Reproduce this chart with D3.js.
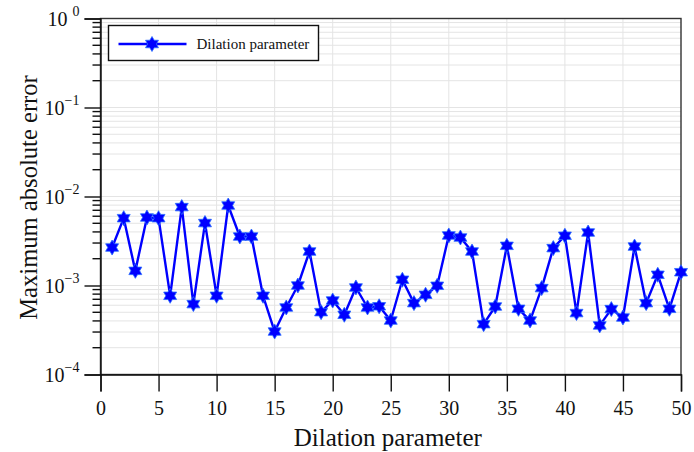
<!DOCTYPE html>
<html>
<head>
<meta charset="utf-8">
<script src="https://d3js.org/d3.v7.min.js"></script>
</head>
<body style="margin:0">
<script>
// dilation parameter 1..50
const dilation = d3.range(1, 51);
const maxError = [
  2.67e-3, 5.71e-3, 1.46e-3, 5.81e-3, 5.71e-3, 7.66e-4, 7.60e-3, 6.18e-4, 5.03e-3, 7.66e-4,
  7.92e-3, 3.55e-3, 3.55e-3, 7.66e-4, 3.04e-4, 5.66e-4, 1.00e-3, 2.41e-3, 5.02e-4, 6.78e-4,
  4.69e-4, 9.50e-4, 5.66e-4, 5.84e-4, 4.04e-4, 1.16e-3, 6.34e-4, 7.87e-4, 9.93e-4, 3.65e-3,
  3.46e-3, 2.41e-3, 3.68e-4, 5.81e-4, 2.79e-3, 5.47e-4, 4.04e-4, 9.35e-4, 2.63e-3, 3.62e-3,
  4.90e-4, 3.94e-3, 3.56e-4, 5.43e-4, 4.37e-4, 2.74e-3, 6.34e-4, 1.32e-3, 5.47e-4, 1.41e-3
];
const xTicks = [0, 5, 10, 15, 20, 25, 30, 35, 40, 45, 50];
const yExponents = [0, -1, -2, -3, -4];
const seriesName = "Dilation parameter";

const FONT = "'Liberation Serif'";
const width = 694, height = 452;
const margin = {left: 100.5, right: 13, top: 18.5, bottom: 77.5};
const W = width - margin.left - margin.right,
      H = height - margin.top - margin.bottom;

const svg = d3.select("body").append("svg")
  .attr("width", width).attr("height", height);

const x = d3.scaleLinear().domain([0, 50]).range([0, W]);
const y = d3.scaleLog().domain([1e-4, 1]).range([H, 0]);

function label(sel, size) {
  return sel.attr("font-family", "Liberation Serif").attr("font-size", size)
    .style("font-family", FONT).attr("fill", "#111");
}

const g = svg.append("g").attr("transform", `translate(${margin.left},${margin.top})`);

// minor log values
const minors = [];
yExponents.slice(0, -1).forEach(e => {
  for (let k = 2; k <= 9; k++) minors.push(k * Math.pow(10, e - 1));
});

// grid
g.append("g").selectAll("line")
  .data(minors.concat(yExponents.map(e => Math.pow(10, e))))
  .join("line")
  .attr("x1", 0).attr("x2", W)
  .attr("y1", d => y(d)).attr("y2", d => y(d))
  .attr("stroke", "#e4e4e4").attr("stroke-width", 1);
g.append("g").selectAll("line")
  .data(xTicks.slice(1, -1))
  .join("line")
  .attr("x1", d => x(d)).attr("x2", d => x(d))
  .attr("y1", 0).attr("y2", H)
  .attr("stroke", "#e4e4e4").attr("stroke-width", 1);

// frame
g.append("rect").attr("width", W).attr("height", H)
  .attr("fill", "none").attr("stroke", "#333").attr("stroke-width", 1.4);

// x axis
const xAxis = d3.axisBottom(x).tickValues(xTicks).tickSize(17).tickPadding(9)
  .tickFormat(d3.format("d"));
const xg = g.append("g").attr("transform", `translate(0,${H})`).call(xAxis);
xg.select(".domain").attr("stroke", "#111").attr("stroke-width", 1.4);
xg.selectAll(".tick line").attr("stroke", "#111").attr("stroke-width", 1.4);
label(xg.selectAll(".tick text"), 20);

// y axis
const yAxis = d3.axisLeft(y).tickValues(yExponents.map(e => Math.pow(10, e)))
  .tickSize(16).tickFormat("");
const yg = g.append("g").call(yAxis);
yg.select(".domain").attr("stroke", "#111").attr("stroke-width", 1.4);
yg.selectAll(".tick line").attr("stroke", "#111").attr("stroke-width", 1.4);
g.append("g").selectAll("line")
  .data(minors).join("line")
  .attr("x1", -8).attr("x2", 0)
  .attr("y1", d => y(d)).attr("y2", d => y(d))
  .attr("stroke", "#111").attr("stroke-width", 1.4);

const yLab = label(g.append("g").selectAll("text")
  .data(yExponents).join("text"), 20)
  .attr("x", -21).attr("y", d => y(Math.pow(10, d)) + 7)
  .attr("text-anchor", "end");
yLab.append("tspan").text(d => d === 0 ? "10 " : "10");
yLab.append("tspan").attr("dy", -10).attr("font-size", 14)
  .text(d => d === 0 ? "0" : "\u2212" + (-d));

// axis titles
label(svg.append("text"), 25)
  .attr("x", margin.left + W / 2 - 3).attr("y", 446)
  .attr("text-anchor", "middle")
  .text("Dilation parameter");
label(svg.append("text"), 24.6)
  .attr("transform", `translate(37,${margin.top + H / 2 + 1}) rotate(-90)`)
  .attr("text-anchor", "middle")
  .text("Maximum absolute error");

// hexagram marker
function hexagram(r) {
  const ri = r * 0.58, pts = [];
  for (let i = 0; i < 12; i++) {
    const a = -Math.PI / 2 + i * Math.PI / 6;
    const rr = i % 2 === 0 ? r : ri;
    pts.push([rr * Math.cos(a), rr * Math.sin(a)]);
  }
  return "M" + pts.map(p => p.join(",")).join("L") + "Z";
}

// series
const data = dilation.map((d, i) => ({x: d, v: maxError[i]}));
g.append("path").datum(data)
  .attr("fill", "none").attr("stroke", "#0000ff").attr("stroke-width", 2.4)
  .attr("stroke-linejoin", "round")
  .attr("d", d3.line().x(d => x(d.x)).y(d => y(d.v)));
g.append("g").selectAll("path")
  .data(data).join("path")
  .attr("transform", d => `translate(${x(d.x)},${y(d.v)})`)
  .attr("d", hexagram(7.5))
  .attr("fill", "#0000ff").attr("stroke", "#2a6cff").attr("stroke-width", 0.8);

// legend
const lg = svg.append("g").attr("transform", "translate(108.5,25.5)");
lg.append("rect").attr("width", 210).attr("height", 35)
  .attr("fill", "#fff").attr("stroke", "#111").attr("stroke-width", 1.4);
lg.append("line").attr("x1", 10).attr("x2", 78).attr("y1", 18.5).attr("y2", 18.5)
  .attr("stroke", "#0000ff").attr("stroke-width", 2.4);
lg.append("path").attr("transform", "translate(43.5,18.5)")
  .attr("d", hexagram(7.5)).attr("fill", "#0000ff")
  .attr("stroke", "#2a6cff").attr("stroke-width", 0.8);
label(lg.append("text"), 15).attr("x", 88).attr("y", 23.5)
  .text(seriesName);
</script>
</body>
</html>
